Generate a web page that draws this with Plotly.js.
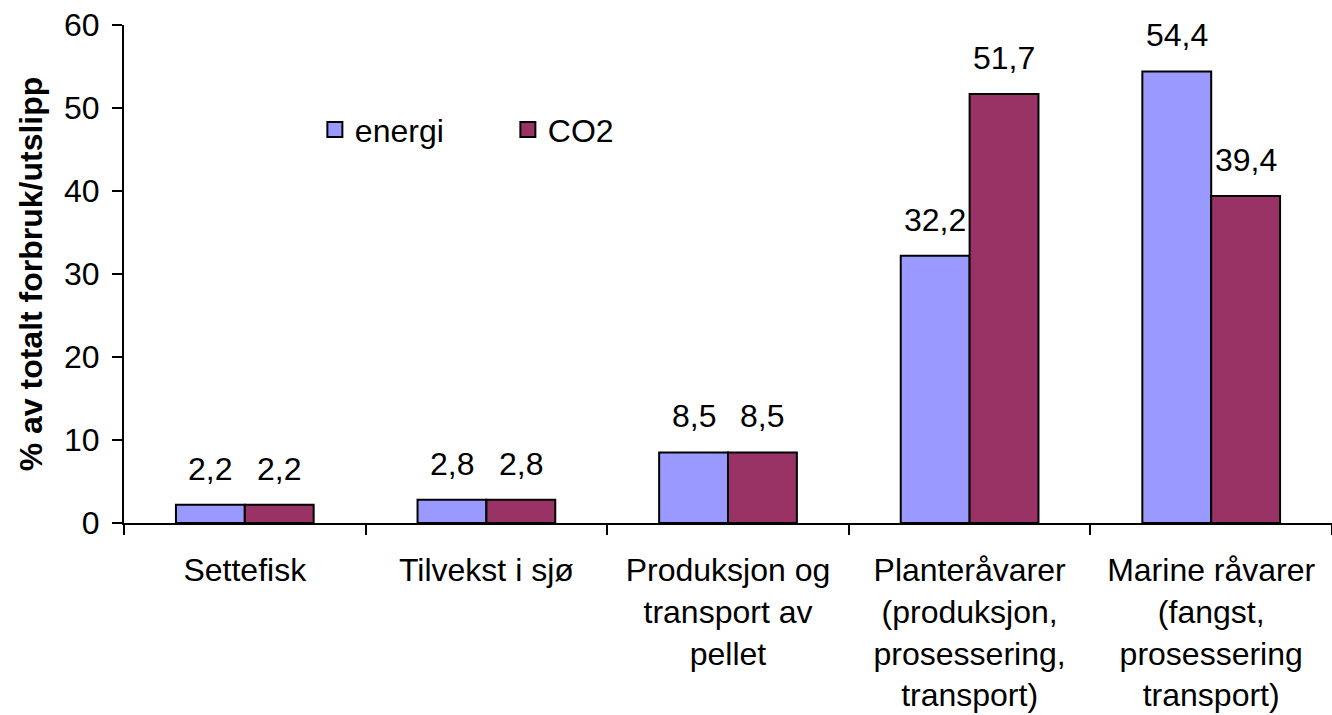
<!DOCTYPE html>
<html>
<head>
<meta charset="utf-8">
<script src="https://cdn.plot.ly/plotly-3.0.1.min.js"></script>
<style>html,body{margin:0;padding:0;background:#fff;}#chart{width:1332px;height:715px;}</style>
</head>
<body>
<div id="chart"></div>
<script>
const categories = [
  "Settefisk",
  "Tilvekst i sjø",
  "Produksjon og<br>transport av<br>pellet",
  "Planteråvarer<br>(produksjon,<br>prosessering,<br>transport)",
  "Marine råvarer<br>(fangst,<br>prosessering<br>transport)"
];
const energi = [2.2, 2.8, 8.5, 32.2, 54.4];
const co2 = [2.2, 2.8, 8.5, 51.7, 39.4];
const seriesNames = ["energi", "CO2"];
const seriesColors = ["#9999FF", "#993366"];
const yTicks = [0, 10, 20, 30, 40, 50, 60];

const FONT = "Liberation Sans, Arial, sans-serif";
const FS = 32;
const fmt = v => String(v).replace('.', ',');

const traces = [energi, co2].map((arr, si) => ({
  type: 'bar', name: seriesNames[si], x: categories, y: arr, showlegend: false,
  marker: {color: seriesColors[si], line: {color: '#000', width: 2}}
}));
// legend-only entries with larger square symbols
seriesNames.forEach((n, si) => traces.push({
  type: 'scatter', mode: 'markers', name: n, x: [null], y: [null],
  marker: {symbol: 'square', size: 15, color: seriesColors[si], line: {color: '#000', width: 2}}
}));

const BARGAP = 0.43;
const plotW = 1332 - 124;
const barW = plotW / categories.length * (1 - BARGAP) / 2;
const annotations = [];
[energi, co2].forEach((arr, si) => {
  arr.forEach((v, i) => {
    annotations.push({
      x: categories[i], y: v, xref: 'x', yref: 'y',
      text: fmt(v), showarrow: false,
      xshift: (si === 0 ? -1 : 1) * barW / 2,
      yanchor: 'middle', yshift: 36,
      font: {family: FONT, size: FS, color: '#000'}
    });
  });
});

const layout = {
  width: 1332, height: 715,
  margin: {l: 124, r: 0, t: 25, b: 192},
  paper_bgcolor: '#fff', plot_bgcolor: '#fff',
  font: {family: FONT, size: FS, color: '#000'},
  bargap: BARGAP, bargroupgap: 0, barmode: 'group',
  showlegend: true,
  legend: {orientation: 'h', x: 0.158, y: 0.79, xanchor: 'left', yanchor: 'middle',
           font: {family: FONT, size: FS, color: '#000'}, itemsizing: 'trace',
           entrywidth: 148, entrywidthmode: 'pixels', bgcolor: 'rgba(0,0,0,0)'},
  xaxis: {
    showline: true, linecolor: '#000', linewidth: 2,
    ticks: 'outside', tickson: 'boundaries', ticklen: 10, tickwidth: 2, tickcolor: '#000',
    tickfont: {family: FONT, size: FS, color: '#000'}, ticklabelstandoff: 18,
    showgrid: false, zeroline: false, tickangle: 0, fixedrange: true
  },
  yaxis: {
    range: [0, 60], tickvals: yTicks, ticktext: yTicks.map(String),
    showline: true, linecolor: '#000', linewidth: 2,
    ticks: 'outside', ticklen: 10, tickwidth: 2, tickcolor: '#000',
    tickfont: {family: FONT, size: FS, color: '#000'}, ticklabelstandoff: 6,
    showgrid: false, zeroline: false,
    title: {text: '<b>% av totalt forbruk/utslipp</b>', font: {family: FONT, size: FS, color: '#000'}, standoff: 12}
  },
  annotations: annotations
};

Plotly.newPlot('chart', traces, layout, {displayModeBar: false, staticPlot: true});
</script>
</body>
</html>
